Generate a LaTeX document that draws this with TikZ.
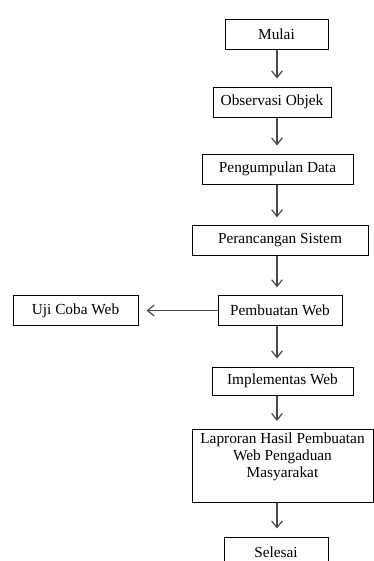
\documentclass[tikz,border=0pt]{standalone}
\usepackage{fontspec}
\setmainfont{Liberation Serif}
\usetikzlibrary{arrows.meta}
\definecolor{BLACK}{HTML}{000000}
\definecolor{GREY}{HTML}{4A4A4A}

\begin{document}
\begin{tikzpicture}[x=0.75pt, y=-0.75pt,
    box/.style={draw=BLACK, line width=0.75pt, minimum height=22pt, inner sep=0pt, align=center, font=\fontsize{11.5}{12.75}\selectfont},
    arr/.style={GREY, line width=0.9pt, -{Straight Barb[length=5pt,width=8pt]}, shorten >=6pt}]
    \useasboundingbox (0,0) rectangle (374,561);
    \coordinate (axis) at (277,0);
    \node[box, minimum width=77.25pt, minimum height=22.5pt] (mulai) at (276.5,34) {Mulai};
    \node[box, minimum width=88.5pt, minimum height=22.5pt] (obs) at (272,102) {Observasi Objek};
    \node[box, minimum width=113.25pt, minimum height=22.5pt] (kumpul) at (277.5,169) {Pengumpulan Data};
    \node[box, minimum width=132pt] (rancang) at (280,240.5) {Perancangan Sistem};
    \node[box, minimum width=93pt] (buat) at (280,310.5) {Pembuatan Web};
    \node[box, minimum width=93.75pt] (uji) at (75.5,310.5) {Uji Coba Web};
    \node[box, minimum width=105.75pt, minimum height=21pt] (impl) at (282.5,381) {Implementas Web};
    \node[box, minimum width=135.75pt, minimum height=0pt, inner ysep=2.5pt, text depth=16pt, anchor=north] (lapor) at (282.5,429) {Laproran Hasil Pembuatan\\Web Pengaduan\\Masyarakat};
    \node[box, minimum width=78pt, minimum height=22.5pt] (selesai) at (276,552) {Selesai};
    % alur utama
    \draw[arr] (mulai.south -| axis) -- (obs.north -| axis);
    \draw[arr] (obs.south -| axis) -- (kumpul.north -| axis);
    \draw[arr] (kumpul.south -| axis) -- (rancang.north -| axis);
    \draw[arr] (rancang.south -| axis) -- (buat.north -| axis);
    \draw[arr] (buat.south -| axis) -- (impl.north -| axis);
    \draw[arr] (impl.south -| axis) -- (lapor.north -| axis);
    \draw[arr] (lapor.south -| axis) -- (selesai.north -| axis);
    \draw[arr] (buat.west) -- (uji.east);
\end{tikzpicture}
\end{document}
